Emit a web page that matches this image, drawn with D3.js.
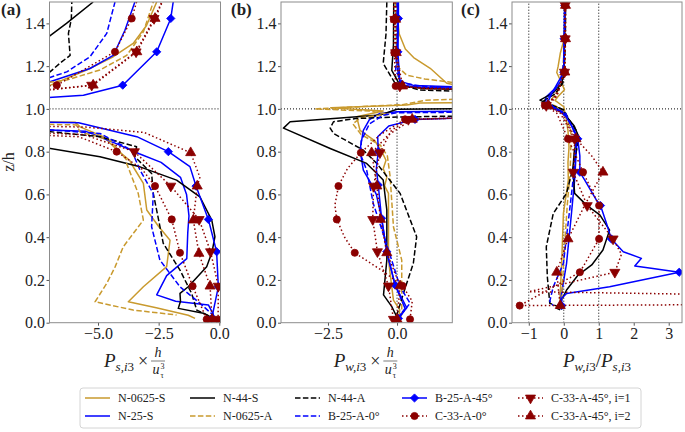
<!DOCTYPE html>
<html>
<head>
<meta charset="utf-8">
<script src="https://cdn.jsdelivr.net/npm/d3@7"></script>
<style>
  body { margin: 0; background: #fff; }
  svg text { font-family: "Liberation Serif", "Times New Roman", serif; fill: #222; }
</style>
</head>
<body>
<svg id="chart" width="685" height="432"></svg>
<script>
// ---- data: each profile is [value, z/h] (third entry 1 = marker shown), null = break
var seriesNames = ["N-0625-S", "N-25-S", "N-44-S", "N-0625-A", "N-44-A",
  "B-25-A-0°", "B-25-A-45°", "C-33-A-0°", "C-33-A-45°, i=1", "C-33-A-45°, i=2"];

var yTicks = [0, 0.2, 0.4, 0.6, 0.8, 1.0, 1.2, 1.4];
var aTicks = [-5, -2.5, 0];
var bTicks = [-2.5, 0];
var cTicks = [-1, 0, 1, 2, 3];

// panel (a): P_s,i3 h/u^3
var aN0625S = [[-8,0.94],[-5.95,0.938],[-5.74,0.916],[-4.78,0.87],[-4.23,0.81],[-3.7,0.76],[-3.5,0.72],[-3.13,0.652],[-2.99,0.527],[-2.5,0.45],[-2.03,0.386],[-2.17,0.262],[-3.13,0.168],[-3.75,0.098],[-2.6,0.07],[-1.28,0.035],[-1.0,0.02],
  null,[-8,1.10],[-6.98,1.11],[-5.47,1.182],[-4.37,1.244],[-3.55,1.306],[-3.0,1.39],[-2.58,1.5]];
var aN25S = [[-8,0.905],[-5.5,0.895],[-4.3,0.84],[-3.3,0.79],[-2.4,0.75],[-1.6,0.68],[-1.35,0.6],[-1.25,0.5],[-1.3,0.42],[-1.34,0.3],[-2.17,0.22],[-2.58,0.13],[-1.8,0.1],[-0.45,0.083],[-0.25,0.04],[-0.2,0.005],
  null,[-8,1.12],[-6.98,1.127],[-5.33,1.189],[-4.37,1.25],[-3.89,1.368],[-3.48,1.5]];
var aN44S = [[-8,0.835],[-4.92,0.776],[-3.27,0.729],[-1.76,0.667],[-0.8,0.589],[-0.31,0.48],[-0.18,0.402],[-0.3,0.33],[-0.52,0.262],[-1.28,0.168],[-1.62,0.137],[-1.6,0.1],[-1.69,0.067],[-0.66,0.044],[-0.11,0.013],
  null,[-8,1.29],[-7.0,1.34],[-6.3,1.40],[-5.2,1.5]];
var aN0625A = [[-8,0.93],[-5.9,0.925],[-5.74,0.893],[-4.51,0.854],[-3.82,0.761],[-3.82,0.745],[-3.34,0.604],[-3.13,0.48],[-3.96,0.355],[-4.3,0.26],[-4.64,0.184],[-5.12,0.098],[-3.55,0.059],[-1.76,0.036],
  null,[-8,1.11],[-6.29,1.135],[-4.92,1.182],[-3.82,1.25],[-3.13,1.36],[-2.72,1.5]];
var aN44A = [[-8,0.905],[-4.92,0.87],[-3.41,0.823],[-3.48,0.776],[-2.79,0.698],[-2.72,0.604],[-2.5,0.48],[-2.31,0.371],[-1.62,0.246],[-1.14,0.137],[-0.93,0.059],[-0.2,0.02],
  null,[-8,1.16],[-6.98,1.173],[-6.5,1.22],[-6.15,1.25],[-6.22,1.353],[-6.1,1.42],[-6.08,1.5]];
var aB25A0 = [[-8,0.91],[-4.92,0.885],[-3.62,0.807],[-3.27,0.714],[-2.72,0.604],[-2.79,0.449],[-2.45,0.293],[-1.62,0.168],[-0.8,0.091],[-0.2,0.03],
  null,[-8,1.14],[-6.98,1.147],[-6.29,1.173],[-5.33,1.244],[-4.64,1.353],[-4.3,1.5]];
var aB25A45 = [[-8,0.94],[-5.8,0.935],[-3.4,0.87],[-2.1,0.8,1],[-1.21,0.73],[-0.96,0.639,1],[-0.45,0.483,1],[-0.11,0.332,1],[-0.04,0.168,1],[-0.31,0.02,1],
  null,[-8,1.045],[-5.6,1.064],[-3.98,1.111,1],[-2.58,1.267,1],[-2.0,1.423,1],[-1.9,1.5]];
var aC33A0 = [[-8,0.88],[-5.8,0.87],[-4.23,0.8,1],[-3.2,0.72],[-2.65,0.639,1],[-1.96,0.483,1],[-1.62,0.327,1],[-1.1,0.171,1],[-0.52,0.016,1],
  null,[-8,1.095],[-6.7,1.111,1],[-4.3,1.267,1],[-3.61,1.423,1],[-3.41,1.5]];
var aC33A45i1 = [[-8,0.89],[-5.6,0.88],[-3.5,0.8,1],[-2.0,0.639,1],[-0.83,0.483,1],[-0.36,0.332,1],[-0.04,0.171,1],[-0.05,0.016,1],
  null,[-8,1.075],[-5.26,1.111,1],[-3.43,1.267,1],[-2.69,1.423,1],[-2.37,1.5]];
var aC33A45i2 = [[-8,0.92],[-5.5,0.915],[-3.1,0.89],[-1.18,0.795,1],[-0.8,0.68],[-0.91,0.639,1],[-1.07,0.48,1],[-0.84,0.324,1],[-0.38,0.171,1],[-0.3,0.016,1],
  null,[-8,1.08],[-5.2,1.111,1],[-3.4,1.267,1],[-2.65,1.423,1],[-2.35,1.5]];

// panel (b): P_w,i3 h/u^3
var bN0625S = [[0.0,1.5],[0.02,1.42],[0.08,1.35],[0.3,1.28],[0.6,1.24],[1.2,1.19],[1.8,1.12],[3,1.09],[3,1.03],[0.83,1.028],[0.35,1.018],[-2.4,1.005],[-0.5,0.99],[-1.46,0.963],[-1.34,0.9],[-0.8,0.85],[-0.55,0.8],[-0.4,0.76],[-0.5,0.72],[-0.37,0.68],[-0.45,0.64],[-0.31,0.605],[-0.31,0.293],[-0.13,0.106],[0.1,0.06],[0.05,0.02]];
var bN25S = [[0.02,1.5],[0.02,1.3],[0.0,1.2],[0.1,1.13],[0.6,1.11],[3,1.1],[3,0.99],[0.0,0.987],[-0.62,0.979],[-1.0,0.95],[-1.22,0.9],[-1.34,0.807],[-1.22,0.714],[-0.98,0.66],[-0.75,0.6],[-0.56,0.49],[-0.37,0.33],[-0.07,0.176],[0.29,0.067],[0.0,0.016]];
var bN44S = [[-0.12,1.5],[-0.13,1.3],[-0.19,1.18],[0.11,1.11],[1.0,1.095],[3,1.09],[3,1.002],[0.0,0.998],[-0.6,0.972],[-3.87,0.94],[-4.11,0.91],[-2.42,0.815],[-1.1,0.745],[-0.73,0.698],[-0.5,0.667],[-0.37,0.527],[-0.37,0.293],[-0.49,0.13],[-0.19,0.075],[-0.01,0.028],[0.0,0.01]];
var bN0625A = [[-0.05,1.5],[-0.03,1.3],[0.0,1.2],[0.35,1.158],[1.0,1.14],[1.8,1.127],[3,1.11],[3,1.05],[1.0,1.04],[0.2,1.02],[-2.97,1.0],[-1.0,0.99],[-0.3,0.975],[-1.3,0.96],[-1.6,0.93],[-1.3,0.88],[-0.6,0.83],[-0.35,0.78],[-0.25,0.683],[-0.13,0.449],[0.17,0.293],[0.17,0.106],[0.17,0.04],[0.1,0.01]];
var bN44A = [[-0.37,1.5],[-0.4,1.35],[-0.5,1.213],[-0.25,1.158],[-0.07,1.12],[0.83,1.088],[3,1.08],[3,0.968],[0.0,0.962],[-1.5,0.955],[-2.3,0.94],[-2.42,0.91],[-2.3,0.885],[-1.22,0.807],[-0.86,0.761],[-0.73,0.745],[0.11,0.605],[0.71,0.402],[0.59,0.278],[0.23,0.137],[0.0,0.04]];
var bB25A0 = [[0.0,1.5],[0.0,1.3],[-0.05,1.18],[0.2,1.12],[1.0,1.105],[3,1.1],[3,0.985],[0.0,0.982],[-0.5,0.97],[-1.0,0.93],[-1.3,0.85],[-1.3,0.78],[-1.1,0.714],[-0.86,0.558],[-0.31,0.34],[0.11,0.168],[0.47,0.091],[0.1,0.03]];
var bB25A45 = [[0.05,1.5],[0.05,1.423,1],[0.03,1.267,1],[0.11,1.111,1],[1.0,1.1],[3,1.095],[3,0.96],[0.65,0.951,1],[-0.3,0.92],[-0.7,0.87],[-0.68,0.8,1],[-0.75,0.72],[-0.68,0.644,1],[-0.56,0.488,1],[-0.37,0.332,1],[-0.07,0.176,1],[0.35,0.07],[0.05,0.02,1]];
var bC33A0 = [[-0.12,1.5],[-0.12,1.419,1],[-0.1,1.263,1],[-0.05,1.107,1],[0.7,1.1],[3,1.09],[3,0.96],[0.29,0.951,1],[-0.6,0.88],[-1.31,0.795,1],[-1.8,0.72],[-2.12,0.639,1],[-2.25,0.55],[-2.18,0.483,1],[-1.9,0.4],[-1.53,0.327,1],[-0.5,0.24],[0.2,0.172,1],[0.55,0.1],[0.47,0.016,1]];
var bC33A45i1 = [[-0.08,1.5],[-0.08,1.419,1],[-0.05,1.263,1],[0.1,1.107,1],[1.0,1.095],[3,1.09],[3,0.96],[0.41,0.951,1],[-0.2,0.9],[-0.62,0.795,1],[-0.85,0.639,1],[-0.88,0.483,1],[-0.71,0.332,1],[-0.31,0.172,1],[-0.13,0.016,1]];
var bC33A45i2 = [[-0.05,1.5],[-0.05,1.419,1],[-0.03,1.263,1],[0.2,1.107,1],[1.0,1.095],[3,1.09],[3,0.96],[0.55,0.951,1],[-0.3,0.88],[-0.92,0.795,1],[-0.73,0.639,1],[-0.6,0.483,1],[-0.37,0.327,1],[0.11,0.172,1],[0.0,0.016,1]];

// panel (c): P_w,i3 / P_s,i3
var cN0625S = [[0.03,1.5],[0.03,1.4],[0.0,1.32],[-0.1,1.26],[-0.16,1.2],[-0.2,1.17],[-0.06,1.12],[0.02,1.09],[-0.15,1.06],[-0.25,1.04],[0.0,1.01],[0.05,0.97],[0.12,0.9],[0.15,0.82],[0.12,0.75],[0.13,0.667],[-0.01,0.511],[-0.06,0.278],[-0.11,0.106],[-0.05,0.08]];
var cN25S = [[0.02,1.5],[0.02,1.4],[0.02,1.3],[0.0,1.2],[-0.1,1.12],[-0.35,1.08],[-0.5,1.057],[-0.55,1.03],[-0.2,1.0],[0.1,0.96],[0.3,0.9],[0.38,0.85],[0.35,0.78],[0.31,0.667],[0.22,0.511],[0.08,0.278],[-0.05,0.15],[-0.1,0.09]];
var cN44S = [[0.03,1.5],[0.03,1.4],[0.02,1.3],[0.0,1.2],[-0.05,1.12],[-0.3,1.075],[-0.68,1.041],[-0.4,1.02],[-0.06,1.0],[0.1,0.96],[0.3,0.92],[0.4,0.88],[0.35,0.84],[0.3,0.8],[0.27,0.74],[0.27,0.698],[0.31,0.605],[0.65,0.55],[1.03,0.504],[1.31,0.433],[1.12,0.34],[0.8,0.27],[0.41,0.223],[0.08,0.153],[-0.06,0.106],[-0.2,0.067],[-0.1,0.06]];
var cN0625A = [[0.04,1.5],[0.04,1.35],[0.0,1.25],[-0.05,1.15],[-0.2,1.07],[-0.45,1.03],[-0.2,1.01],[0.05,0.98],[0.2,0.9],[0.2,0.8],[0.18,0.7],[0.1,0.55],[0.02,0.35],[-0.05,0.15],[-0.05,0.08]];
var cN44A = [[0.05,1.5],[0.05,1.4],[0.04,1.3],[0.02,1.2],[-0.03,1.12],[-0.25,1.07],[-0.6,1.035],[-0.3,1.015],[0.0,0.995],[0.15,0.95],[0.35,0.9],[0.42,0.87],[0.38,0.82],[0.27,0.729],[0.08,0.605],[-0.3,0.511],[-0.5,0.355],[-0.47,0.215],[-0.4,0.091],[-0.16,0.075]];
var cB25A0 = [[0.03,1.5],[0.03,1.35],[0.0,1.22],[-0.08,1.13],[-0.3,1.08],[-0.5,1.045],[-0.3,1.01],[0.05,0.98],[0.28,0.9],[0.35,0.85],[0.32,0.75],[0.22,0.6],[-0.01,0.278],[-0.3,0.168],[-0.4,0.1],[-0.3,0.08]];
var cB25A45 = [[0.03,1.5],[0.03,1.484,1],[0.01,1.328,1],[0.0,1.172,1],[-0.35,1.07],[-0.5,1.016,1],[0.0,0.98],[0.3,0.9],[0.4,0.86,1],[0.46,0.78],[0.46,0.704,1],[0.6,0.667],[0.93,0.574],[1.05,0.548,1],[1.22,0.465],[1.36,0.392,1],[1.7,0.332],[2.22,0.301],[2.03,0.265],[2.55,0.254],[3.3,0.236,1],[1.31,0.168],[0.08,0.137],[-0.06,0.114],[-0.06,0.08,1]];
var cC33A0 = [[0.03,1.5],[0.03,1.484,1],[0.03,1.328,1],[0.02,1.172,1],[-0.2,1.06],[-0.54,1.016,1],[-0.2,0.98],[0.12,0.86,1],[0.35,0.78],[0.55,0.704,1],[1.01,0.548,1],[1.01,0.392,1],[0.46,0.236,1],[-1.26,0.08,1],[5,0.085]];
var cC33A45i1 = [[0.04,1.5],[0.04,1.484,1],[0.04,1.328,1],[0.02,1.172,1],[-0.25,1.06],[-0.5,1.016,1],[-0.1,0.98],[0.31,0.86,1],[0.3,0.76],[0.27,0.704,1],[0.67,0.548,1],[1.41,0.392,1],[1.65,0.32],[1.46,0.236,1],[-1.0,0.145],[5,0.13]];
var cC33A45i2 = [[0.05,1.5],[0.05,1.484,1],[0.05,1.328,1],[0.03,1.172,1],[-0.2,1.06],[-0.45,1.016,1],[-0.05,0.98],[0.35,0.86,1],[0.8,0.78],[1.12,0.704,1],[0.6,0.55],[0.3,0.45],[0.12,0.392,1],[-0.2,0.236,1],[-0.15,0.15],[-0.1,0.08,1]];

// ---- styles
var gold = "#c99a2e", blue = "#0000ff", red = "#8b0000";
var dashed = "5.5,2.4", dotted = "1.5,2.5";
var serif = "Liberation Serif";

var series = [
  {color: gold,    dash: null,   marker: null,      a: aN0625S,   b: bN0625S,   c: cN0625S},
  {color: blue,    dash: null,   marker: null,      a: aN25S,     b: bN25S,     c: cN25S},
  {color: "#000",  dash: null,   marker: null,      a: aN44S,     b: bN44S,     c: cN44S},
  {color: gold,    dash: dashed, marker: null,      a: aN0625A,   b: bN0625A,   c: cN0625A},
  {color: "#000",  dash: dashed, marker: null,      a: aN44A,     b: bN44A,     c: cN44A},
  {color: blue,    dash: dashed, marker: null,      a: aB25A0,    b: bB25A0,    c: cB25A0},
  {color: blue,    dash: null,   marker: "diamond", a: aB25A45,   b: bB25A45,   c: cB25A45},
  {color: red,     dash: dotted, marker: "circle",  a: aC33A0,    b: bC33A0,    c: cC33A0},
  {color: red,     dash: dotted, marker: "down",    a: aC33A45i1, b: bC33A45i1, c: cC33A45i1},
  {color: red,     dash: dotted, marker: "up",      a: aC33A45i2, b: bC33A45i2, c: cC33A45i2}
];

var panels = [
  {key: "a", x0: 49.5, x1: 220.5, dom: [-7, 0.05],   ticks: aTicks, fmt: ".1f", vlines: [],        label: "(a)", lx: 1},
  {key: "b", x0: 281,  x1: 452.3, dom: [-4.2, 2.0],  ticks: bTicks, fmt: ".1f", vlines: [0],       label: "(b)", lx: 231},
  {key: "c", x0: 512,  x1: 682,   dom: [-1.48, 3.38], ticks: cTicks, fmt: "d",  vlines: [-1, 0, 1], label: "(c)", lx: 461}
];

var svg = d3.select("#chart");
var y = d3.scaleLinear().domain([0, 1.5]).range([322.7, 2]);

var markerPath = function(kind) {
  if (kind === "diamond") return d3.symbol().type(d3.symbolSquare).size(34)();
  if (kind === "circle") return d3.symbol().type(d3.symbolCircle).size(40)();
  return d3.symbol().type(d3.symbolTriangle).size(44)();
};
var markerTransform = function(kind, px, py) {
  if (kind === "diamond") return "translate(" + px + "," + py + ") rotate(45)";
  if (kind === "down") return "translate(" + px + "," + py + ") rotate(180)";
  return "translate(" + px + "," + py + ")";
};

panels.forEach(function(p) {
  var x = d3.scaleLinear().domain(p.dom).range([p.x0, p.x1]);
  var g = svg.append("g");

  svg.append("clipPath").attr("id", "clip-" + p.key)
    .append("rect").attr("x", p.x0).attr("y", y(1.5)).attr("width", p.x1 - p.x0).attr("height", y(0) - y(1.5));

  var plot = g.append("g").attr("clip-path", "url(#clip-" + p.key + ")");

  // reference lines
  plot.append("line").attr("x1", p.x0).attr("x2", p.x1).attr("y1", y(1)).attr("y2", y(1))
    .attr("stroke", "#000").attr("stroke-width", 1).attr("stroke-dasharray", "1,2");
  p.vlines.forEach(function(v) {
    plot.append("line").attr("x1", x(v)).attr("x2", x(v)).attr("y1", y(0)).attr("y2", y(1.5))
      .attr("stroke", "#000").attr("stroke-width", 1).attr("stroke-dasharray", "1,2");
  });

  var line = d3.line().defined(function(d) { return d !== null; })
    .x(function(d) { return x(d[0]); }).y(function(d) { return y(d[1]); });

  series.forEach(function(s) {
    var data = s[p.key];
    plot.append("path").attr("d", line(data)).attr("fill", "none")
      .attr("stroke", s.color).attr("stroke-width", 1.5)
      .attr("stroke-dasharray", s.dash).attr("stroke-linejoin", "round");
    if (s.marker) {
      plot.selectAll(null).data(data.filter(function(d) { return d && d[2]; })).enter()
        .append("path").attr("d", markerPath(s.marker))
        .attr("transform", function(d) { return markerTransform(s.marker, x(d[0]), y(d[1])); })
        .attr("fill", s.color).attr("stroke", s.color).attr("stroke-width", 0.8);
    }
  });

  // axes
  var xAxis = g.append("g").attr("transform", "translate(0," + y(0) + ")")
    .call(d3.axisBottom(x).tickValues(p.ticks).tickFormat(d3.format(p.fmt)).tickSize(3).tickPadding(2));
  var yAxis = g.append("g").attr("transform", "translate(" + p.x0 + ",0)")
    .call(d3.axisLeft(y).tickValues(yTicks).tickFormat(d3.format(".1f")).tickSize(3).tickPadding(1.5));
  [xAxis, yAxis].forEach(function(ax) {
    ax.attr("font-family", serif);
    ax.select(".domain").remove();
    ax.selectAll(".tick line").attr("stroke", "#555");
    ax.selectAll(".tick text").attr("font-family", serif).attr("font-size", 16).attr("fill", "#222");
  });

  g.append("rect").attr("x", p.x0).attr("y", y(1.5)).attr("width", p.x1 - p.x0).attr("height", y(0) - y(1.5))
    .attr("fill", "none").attr("stroke", "#8c8c8c").attr("stroke-width", 1);

  g.append("text").attr("x", p.lx).attr("y", 15).attr("font-family", serif)
    .attr("font-size", 17).attr("font-weight", "bold").text(p.label);
});

svg.append("text").attr("transform", "translate(14,162) rotate(-90)").attr("text-anchor", "middle")
  .attr("font-family", serif).attr("font-size", 16).text("z/h");

// ---- axis titles (mathtext-like)
function productTitle(cx, sub) {
  var g = svg.append("g").attr("font-family", serif);
  var t = g.append("text").attr("y", 367);
  t.append("tspan").attr("font-size", 19).attr("font-style", "italic").text("P");
  t.append("tspan").attr("font-size", 13).attr("dy", 4).attr("font-style", "italic").text(sub);
  t.append("tspan").attr("font-size", 13).text("3");
  var w = t.node().getComputedTextLength();
  g.append("text").attr("x", w + 9).attr("y", 367).attr("text-anchor", "middle").attr("font-size", 18).text("\u00d7");
  var fx = w + 24;
  g.append("text").attr("x", fx).attr("y", 357).attr("text-anchor", "middle")
    .attr("font-size", 14).attr("font-style", "italic").text("h");
  g.append("line").attr("x1", fx - 7).attr("x2", fx + 7).attr("y1", 361).attr("y2", 361)
    .attr("stroke", "#222").attr("stroke-width", 0.6);
  g.append("text").attr("x", fx - 2).attr("y", 374).attr("text-anchor", "middle")
    .attr("font-size", 14).attr("font-style", "italic").text("u");
  g.append("text").attr("x", fx + 2.5).attr("y", 369).attr("font-size", 8).text("3");
  g.append("text").attr("x", fx + 2.5).attr("y", 378).attr("font-size", 8).text("\u03c4");
  var total = fx + 8;
  g.attr("transform", "translate(" + (cx - total / 2) + ",0)");
}
productTitle(135, "s,i");
productTitle(366, "w,i");

(function() {
  var t = svg.append("text").attr("x", 597).attr("y", 367).attr("text-anchor", "middle").attr("font-family", serif);
  t.append("tspan").attr("font-size", 19).attr("font-style", "italic").text("P");
  t.append("tspan").attr("font-size", 13).attr("dy", 4).attr("font-style", "italic").text("w,i");
  t.append("tspan").attr("font-size", 13).text("3");
  t.append("tspan").attr("font-size", 19).attr("dy", -4).text("/");
  t.append("tspan").attr("font-size", 19).attr("font-style", "italic").text("P");
  t.append("tspan").attr("font-size", 13).attr("dy", 4).attr("font-style", "italic").text("s,i");
  t.append("tspan").attr("font-size", 13).text("3");
})();

// ---- legend (two rows, filled column by column)
var legend = svg.append("g").attr("font-family", serif);
legend.append("rect").attr("x", 80).attr("y", 388).attr("width", 561).attr("height", 40).attr("rx", 3)
  .attr("fill", "#fff").attr("stroke", "#d4d4d4").attr("stroke-width", 1);
var colX = [85, 190, 295, 402, 518], rowY = [398, 416];
series.forEach(function(s, i) {
  var lx = colX[Math.floor(i / 2)], ly = rowY[i % 2];
  legend.append("line").attr("x1", lx).attr("x2", lx + 25).attr("y1", ly).attr("y2", ly)
    .attr("stroke", s.color).attr("stroke-width", 1.5).attr("stroke-dasharray", s.dash);
  if (s.marker) {
    legend.append("path").attr("d", markerPath(s.marker)).attr("transform", markerTransform(s.marker, lx + 12.5, ly))
      .attr("fill", s.color).attr("stroke", s.color).attr("stroke-width", 0.8);
  }
  legend.append("text").attr("x", lx + 33).attr("y", ly).attr("dy", "0.35em").attr("font-size", 12).text(seriesNames[i]);
});
</script>
</body>
</html>
